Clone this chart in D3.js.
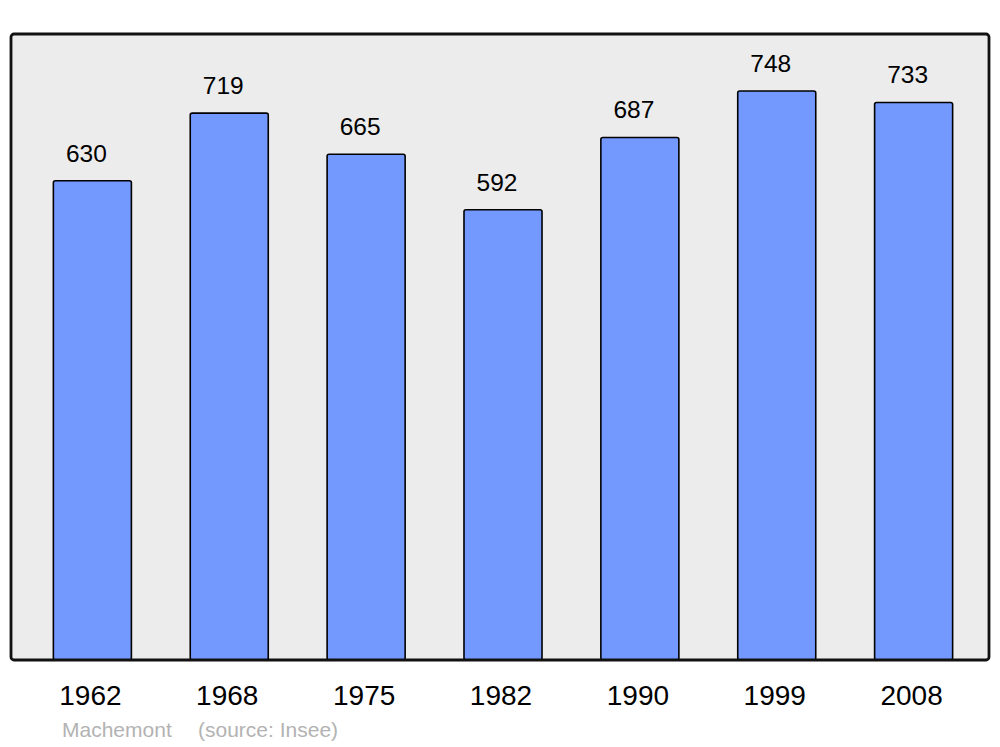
<!DOCTYPE html>
<html>
<head>
<meta charset="utf-8">
<script src="https://cdn.jsdelivr.net/npm/d3@7"></script>
<style>
  body { margin: 0; background: #fff; }
  text { font-family: "Liberation Sans", Arial, sans-serif; }
</style>
</head>
<body>
<div class="box"></div>
<script>
var years = ["1962", "1968", "1975", "1982", "1990", "1999", "2008"];
var population = [630, 719, 665, 592, 687, 748, 733];
var place = "Machemont";
var source = "(source: Insee)";

var width = 1000, height = 747;
var panel = { left: 11, right: 989, top: 34, bottom: 660 };

var data = years.map(function (y, i) { return { year: y, value: population[i] }; });

var x = d3.scaleBand()
    .domain(years)
    .range([26, 980])
    .paddingInner(0.43)
    .paddingOuter(0.2);

var y = d3.scaleLinear()
    .domain([0, 823])
    .range([panel.bottom, panel.top]);

var svg = d3.create("svg")
    .attr("width", width)
    .attr("height", height)
    .attr("viewBox", [0, 0, width, height]);

// background panel
svg.append("rect")
    .attr("x", panel.left)
    .attr("y", panel.top)
    .attr("width", panel.right - panel.left)
    .attr("height", panel.bottom - panel.top)
    .attr("rx", 3)
    .attr("fill", "#ececec")
    .attr("stroke", "none");

svg.append("g")
    .selectAll("rect")
    .data(data)
    .join("rect")
    .attr("x", d => x(d.year))
    .attr("y", d => y(d.value))
    .attr("width", x.bandwidth())
    .attr("height", d => y(0) - y(d.value))
    .attr("rx", 2)
    .attr("fill", "#7399ff")
    .attr("stroke", "#000")
    .attr("stroke-width", 1.6);

// panel border drawn last
svg.append("rect")
    .attr("x", panel.left)
    .attr("y", panel.top)
    .attr("width", panel.right - panel.left)
    .attr("height", panel.bottom - panel.top)
    .attr("rx", 3)
    .attr("fill", "none")
    .attr("stroke", "#111")
    .attr("stroke-width", 2.8);

// value labels
svg.append("g")
    .selectAll("text")
    .data(data)
    .join("text")
    .attr("x", d => x(d.year) + x.bandwidth() / 2 - 6)
    .attr("y", d => y(d.value) - 19)
    .attr("text-anchor", "middle")
    .attr("font-size", 24.5)
    .attr("fill", "#000")
    .text(d => d.value);

// year axis
var axis = svg.append("g")
    .attr("transform", `translate(0,${panel.bottom})`)
    .call(d3.axisBottom(x).tickSize(0).tickPadding(0));
axis.select(".domain").remove();
axis.selectAll("text")
    .attr("y", 45)
    .attr("dy", 0)
    .attr("dx", -2)
    .attr("font-size", 28)
    .attr("font-family", "Liberation Sans, Arial, sans-serif")
    .attr("fill", "#000");

var credit = svg.append("g")
    .attr("font-size", 21)
    .attr("fill", "#b3b3b3");
credit.append("text")
    .attr("x", 62)
    .attr("y", 737)
    .text(place);
credit.append("text")
    .attr("x", 198)
    .attr("y", 737)
    .text(source);

document.querySelector(".box").appendChild(svg.node());
</script>
</body>
</html>
